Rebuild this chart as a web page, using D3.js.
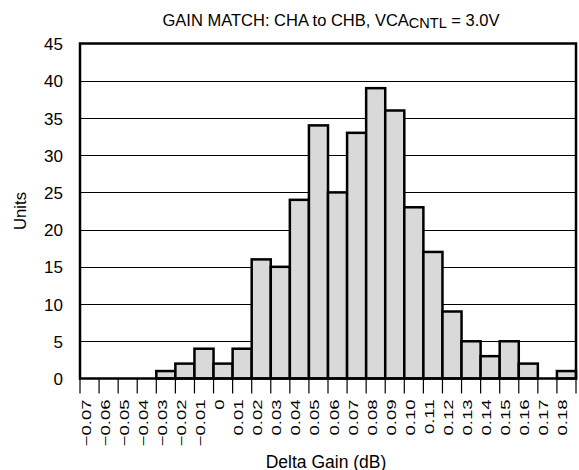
<!DOCTYPE html>
<html><head><meta charset="utf-8">
<script src="https://cdn.jsdelivr.net/npm/d3@7"></script>
<style>
body{margin:0;background:#fff;}
text{font-family:"Liberation Sans",Arial,Helvetica,sans-serif;fill:#000;}
</style></head>
<body><svg id="c" width="579" height="470"></svg>
<script>
const categories = ["\u22120.07","\u22120.06","\u22120.05","\u22120.04","\u22120.03","\u22120.02","\u22120.01","0","0.01","0.02","0.03","0.04","0.05","0.06","0.07","0.08","0.09","0.10","0.11","0.12","0.13","0.14","0.15","0.16","0.17","0.18"];
const units = [0,0,0,0,1,2,4,2,4,16,15,24,34,25,33,39,36,23,17,9,5,3,5,2,0,1];
const yTicks = [0,5,10,15,20,25,30,35,40,45];

const svg = d3.select("#c");
const L=80, R=576, T=43.5, B=378.5;
const x = d3.scaleBand().domain(categories).range([L,R]).paddingInner(0).paddingOuter(0);
const y = d3.scaleLinear().domain([0,45]).range([B,T]);

// gridlines
svg.append("g").selectAll("line").data(yTicks.filter(d=>d>0&&d<45)).join("line")
  .attr("x1",L).attr("x2",R).attr("y1",d=>Math.round(y(d))+0.5).attr("y2",d=>Math.round(y(d))+0.5)
  .attr("stroke","#000").attr("stroke-width",1);

// bars
svg.append("g").selectAll("rect").data(categories.map((c,i)=>({c,v:units[i]})).filter(d=>d.v>0)).join("rect")
  .attr("x",d=>x(d.c)).attr("width",x.bandwidth())
  .attr("y",d=>y(d.v)).attr("height",d=>B-y(d.v))
  .attr("fill","#d9d9d9").attr("stroke","#000").attr("stroke-width",2.5);

// frame
svg.append("rect").attr("x",L).attr("y",T).attr("width",R-L).attr("height",B-T)
  .attr("fill","none").attr("stroke","#000").attr("stroke-width",2.5);

// x tick marks at band boundaries
const bounds = d3.range(categories.length+1).map(i=>L+i*x.step());
svg.append("g").selectAll("line").data(bounds).join("line")
  .attr("x1",d=>d).attr("x2",d=>d).attr("y1",B).attr("y2",B+15)
  .attr("stroke","#000").attr("stroke-width",1.2);

// y axis labels
const ya = svg.append("g").attr("transform",`translate(${L},0)`)
  .call(d3.axisLeft(y).tickValues(yTicks).tickSize(0).tickPadding(17));
ya.select(".domain").remove();
ya.selectAll("text").attr("font-size",17).attr("font-family",null).attr("dy","0.36em");

// x axis labels
const xa = svg.append("g").attr("transform",`translate(0,${B})`)
  .call(d3.axisBottom(x).tickSize(0));
xa.select(".domain").remove();
xa.selectAll("text").attr("font-size",18.5).attr("font-family",null)
  .attr("x",0).attr("y",0).attr("dy",null)
  .attr("text-anchor","end")
  .attr("transform","translate(1,21) rotate(-90) scale(1,0.7)");

// axis titles
svg.append("text").attr("x",326).attr("y",467.5).attr("text-anchor","middle")
  .attr("font-size",17.5).text("Delta Gain (dB)");
svg.append("text").attr("transform","translate(25.5,211) rotate(-90)").attr("text-anchor","middle")
  .attr("font-size",16.7).text("Units");

// title
const t = svg.append("text").attr("x",331).attr("y",25.5).attr("text-anchor","middle").attr("font-size",16.5);
t.append("tspan").text("GAIN MATCH: CHA to CHB, VCA");
t.append("tspan").attr("font-size",14.5).attr("dy",2).text("CNTL");
t.append("tspan").attr("dy",-2).text(" = 3.0V");
</script></body></html>
